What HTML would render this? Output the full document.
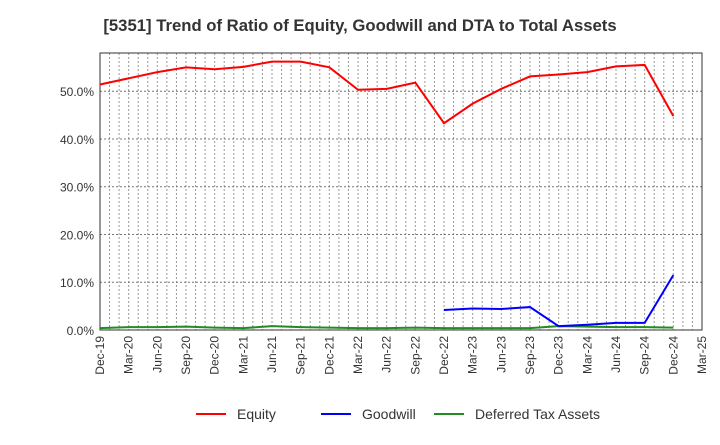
<!DOCTYPE html>
<html><head><meta charset="utf-8"><style>
body{margin:0;background:#fff;font-family:"Liberation Sans",sans-serif}
svg text{font-family:"Liberation Sans",sans-serif}
</style></head><body>
<svg id="c" width="720" height="440">
<text x="360" y="31" text-anchor="middle" font-size="16.7" font-weight="bold" fill="#333">[5351]  Trend of Ratio of Equity, Goodwill and DTA to Total Assets</text>
</svg>
<script>
const categories=["Dec-19","Mar-20","Jun-20","Sep-20","Dec-20","Mar-21","Jun-21","Sep-21","Dec-21","Mar-22","Jun-22","Sep-22","Dec-22","Mar-23","Jun-23","Sep-23","Dec-23","Mar-24","Jun-24","Sep-24","Dec-24","Mar-25"];
const equity=[51.4,52.7,54.0,55.0,54.6,55.1,56.2,56.2,55.0,50.3,50.5,51.8,43.3,47.4,50.5,53.1,53.5,54.0,55.2,55.5,44.8];
const goodwill=[null,null,null,null,null,null,null,null,null,null,null,null,4.2,4.5,4.4,4.8,0.8,1.1,1.5,1.5,11.5];
const dta=[0.4,0.6,0.6,0.7,0.5,0.4,0.8,0.6,0.5,0.4,0.4,0.5,0.4,0.4,0.4,0.4,0.8,0.7,0.6,0.6,0.5];
const yTicks=[0,10,20,30,40,50];
const L=100,R=702,T=53,B=330,YMAX=58;
const svg=document.getElementById('c'),NS='http://www.w3.org/2000/svg';
const xs=i=>L+(R-L)*i/(categories.length-1);
const ys=v=>B-(B-T)*v/YMAX;
function mk(t,a){const e=document.createElementNS(NS,t);for(const k in a)e.setAttribute(k,a[k]);svg.appendChild(e);return e;}
for(let m=1;m<(categories.length-1)*3;m++){const x=L+(R-L)*m/((categories.length-1)*3);
const g=mk('line',{x1:x,x2:x,y1:T,y2:B,stroke:'#999','stroke-dasharray':'2,2','stroke-width':1});

}
yTicks.forEach(v=>{const y=ys(v);
if(v>0){const g=mk('line',{x1:L,x2:R,y1:y,y2:y,stroke:'#777','stroke-dasharray':'2,2'});

}
const t=mk('text',{x:L-6,y:y+5,'text-anchor':'end','font-size':12,fill:'#333'});t.textContent=v.toFixed(1)+'%';

});
categories.forEach((c,i)=>{const x=xs(i);
const t=mk('text',{transform:`translate(${x+4},${B+6}) rotate(-90)`,'text-anchor':'end','font-size':12,fill:'#333'});t.textContent=c;

});
const fr=mk('rect',{x:L,y:T,width:R-L,height:B-T,fill:'none',stroke:'#333'});


function line(data,color,name){let d='';data.forEach((v,i)=>{if(v==null)return;d+=(d?'L':'M')+xs(i)+','+ys(v);});
const p=mk('path',{d:d,fill:'none',stroke:color,'stroke-width':2});

}
line(dta,'#228b22','dta-line');line(goodwill,'#0000ff','goodwill-line');line(equity,'#ff0000','equity-line');
const leg=[['Equity','#ff0000',196],['Goodwill','#0000ff',321],['Deferred Tax Assets','#228b22',434]];
leg.forEach(([n,c,x])=>{const l=mk('line',{x1:x,x2:x+30,y1:414,y2:414,stroke:c,'stroke-width':2});


const t=mk('text',{x:x+41,y:419,'font-size':14,fill:'#333'});t.textContent=n;

});
</script>
</body></html>
